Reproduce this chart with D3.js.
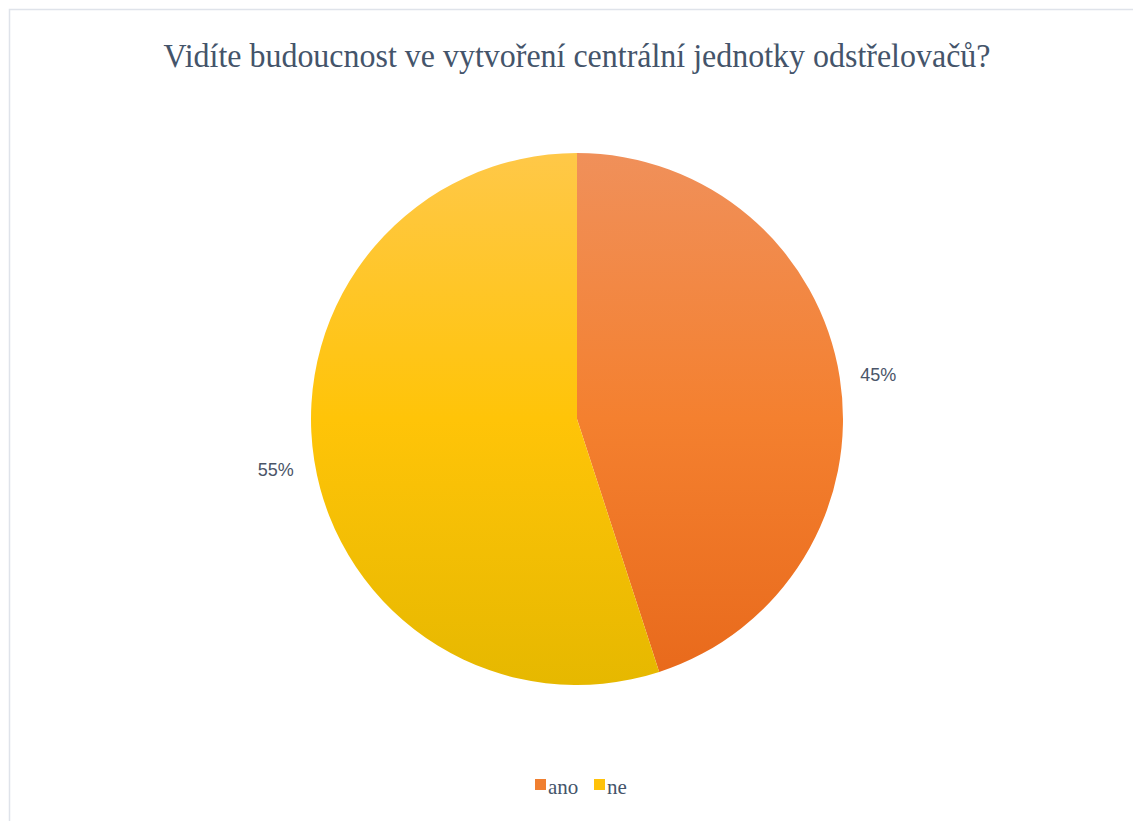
<!DOCTYPE html>
<html><head><meta charset="utf-8">
<script src="https://cdn.jsdelivr.net/npm/d3@7"></script>
<style>body{margin:0;background:#fff;}</style>
</head><body>
<svg id="chart" width="1133" height="821"></svg>
<script>
const title = "Vidíte budoucnost ve vytvoření centrální jednotky odstřelovačů?";
const categories = ["ano", "ne"];
const values = [45, 55];
const labels = ["45%", "55%"];
const colorStops = [
  ["#f0905a", "#f4802f", "#e8691b"],
  ["#ffc848", "#ffc408", "#e6b800"]
];
const legendColors = ["#f07f30", "#ffc20a"];

const W = 1133, H = 821;
const svg = d3.select("#chart");
svg.append("rect").attr("x", 9.5).attr("y", 9.5).attr("width", W + 10).attr("height", H + 10)
  .attr("fill", "#fff").attr("stroke", "#dfe3ea").attr("stroke-width", 1.5);

svg.append("text").attr("x", 577).attr("y", 67).attr("text-anchor", "middle")
  .attr("font-family", "Liberation Serif, Times New Roman, serif").attr("font-size", 34)
  .attr("textLength", 827).attr("lengthAdjust", "spacingAndGlyphs")
  .attr("fill", "#44546a").text(title);

const cx = 577, cy = 419, r = 266;
const defs = svg.append("defs");
colorStops.forEach((cs, i) => {
  const g = defs.append("linearGradient").attr("id", "g" + i)
    .attr("gradientUnits", "userSpaceOnUse")
    .attr("x1", 0).attr("y1", -r).attr("x2", 0).attr("y2", r);
  g.append("stop").attr("offset", "0%").attr("stop-color", cs[0]);
  g.append("stop").attr("offset", "50%").attr("stop-color", cs[1]);
  g.append("stop").attr("offset", "100%").attr("stop-color", cs[2]);
});

const pie = d3.pie().sort(null).value(d => d)(values);
const arc = d3.arc().innerRadius(0).outerRadius(r);
const labelArc = d3.arc().innerRadius(305).outerRadius(305);
const g = svg.append("g").attr("transform", `translate(${cx},${cy})`);
g.selectAll("path").data(pie).join("path")
  .attr("d", arc).attr("fill", (d, i) => `url(#g${i})`);
g.selectAll("text").data(pie).join("text")
  .attr("x", d => labelArc.centroid(d)[0])
  .attr("y", d => labelArc.centroid(d)[1] + 3)
  .attr("dy", "0.35em").attr("text-anchor", "middle")
  .attr("font-family", "Liberation Sans, Arial, sans-serif").attr("font-size", 18)
  .attr("fill", "#4a5568").text((d, i) => labels[i]);

const legend = svg.append("g").attr("transform", "translate(535,787)");
const legX = [0, 59];
categories.forEach((c, i) => {
  const lg = legend.append("g").attr("transform", `translate(${legX[i]},0)`);
  lg.append("rect").attr("x", 0).attr("y", -8).attr("width", 11).attr("height", 11).attr("fill", legendColors[i]);
  lg.append("text").attr("x", 13).attr("y", 0).attr("dy", "0.35em")
    .attr("font-family", "Liberation Serif, Times New Roman, serif").attr("font-size", 21)
    .attr("fill", "#44546a").text(c);
});
</script>
</body></html>
